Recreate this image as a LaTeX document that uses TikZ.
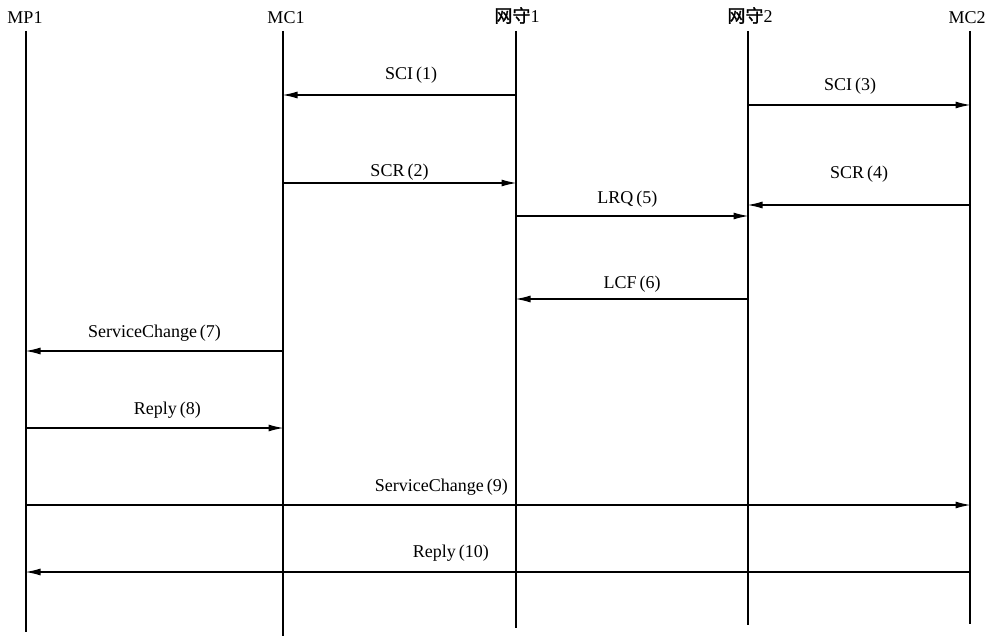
\documentclass[tikz,border=0pt]{standalone}
\usepackage{fontspec}
\setmainfont{Liberation Serif}
\newfontfamily\cjk[FakeBold=1.5]{Noto Sans CJK SC}
\usepackage{tikz}
\usetikzlibrary{arrows.meta,positioning,calc}

\begin{document}
\begin{tikzpicture}[
    x=1pt, y=-1pt,
    actor/.style={anchor=south, inner sep=0pt, font=\fontsize{18}{20}\selectfont},
    life/.style={line width=1.8pt},
    msg/.style={-{Latex[length=15pt,width=7pt]}, line width=1.2pt, shorten >=-0.5pt},
    lbl/.style={inner sep=0pt, font=\fontsize{18}{20}\selectfont},
]
\useasboundingbox (0,0) rectangle (993,639);

% Actors
\node[actor] (mp1) at (25,24) {MP1};
\node[actor] (mc1) at (286,24) {MC1};
\node[actor] (gk1) at (517,24) {{\cjk 网守}1};
\node[actor] (gk2) at (750,24) {{\cjk 网守}2};
\node[actor] (mc2) at (967,24) {MC2};

% Lifelines
\foreach \n/\x/\b in {mp1/26/632, mc1/283/636, gk1/516/628, gk2/748/625, mc2/970/624} {
    \coordinate (\n top) at (\x,31);
    \coordinate (\n end) at (\x,\b);
    \draw[life] (\n top) -- (\n end);
}

% Messages
\draw[msg] (gk1top |- 0,95) -- node[lbl, pos=.45, yshift=20pt] {SCI\,(1)} (mc1top |- 0,95);
\draw[msg] (mc1top |- 0,183) -- node[lbl, pos=.5, yshift=11pt] {SCR\,(2)} (gk1top |- 0,183);
\draw[msg] (gk2top |- 0,105) -- node[lbl, pos=.46, yshift=19pt] {SCI\,(3)} (mc2top |- 0,105);
\draw[msg] (mc2top |- 0,205) -- node[lbl, pos=.5, yshift=31pt] {SCR\,(4)} (gk2top |- 0,205);
\draw[msg] (gk1top |- 0,216) -- node[lbl, pos=.48, yshift=17pt] {LRQ\,(5)} (gk2top |- 0,216);
\draw[msg] (gk2top |- 0,299) -- node[lbl, pos=.5, yshift=15pt] {LCF\,(6)} (gk1top |- 0,299);
\draw[msg] (mc1top |- 0,351) -- node[lbl, pos=.5, yshift=18pt] {ServiceChange\,(7)} (mp1top |- 0,351);
\draw[msg] (mp1top |- 0,428) -- node[lbl, pos=.55, yshift=18pt] {Reply\,(8)} (mc1top |- 0,428);
\draw[msg] (mp1top |- 0,505) -- node[lbl, pos=.44, yshift=18pt] {ServiceChange\,(9)} (mc2top |- 0,505);
\draw[msg] (mc2top |- 0,572) -- node[lbl, pos=.55, yshift=19pt] {Reply\,(10)} (mp1top |- 0,572);

\end{tikzpicture}
\end{document}
